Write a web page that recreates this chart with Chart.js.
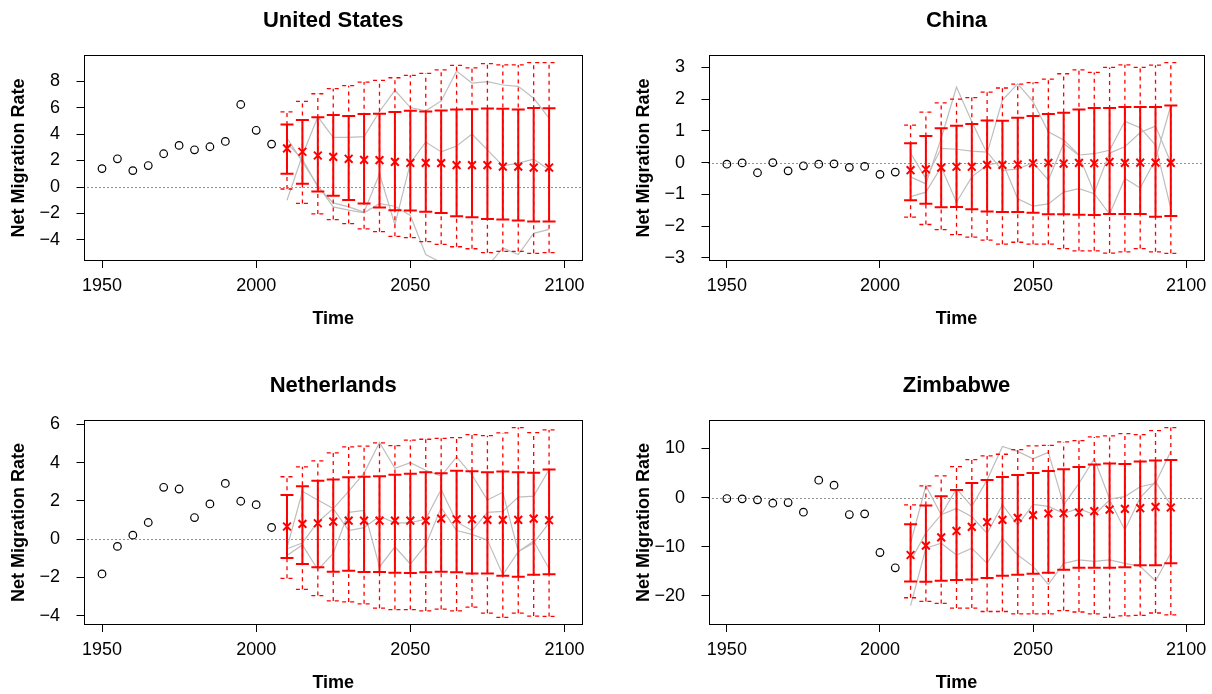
<!DOCTYPE html>
<html>
<head>
<meta charset="utf-8">
<title>Net Migration Rate</title>
<script src="https://cdn.jsdelivr.net/npm/chart.js@4.4.1/dist/chart.umd.min.js"></script>
<style>
	html, body { margin: 0; padding: 0; background: #fff; overflow: hidden; }
	canvas { position: absolute; }
</style>
</head>
<body>
<canvas id="us" width="625" height="365" style="left:0;top:0"></canvas>
<canvas id="cn" width="587" height="365" style="left:625px;top:0"></canvas>
<canvas id="nl" width="625" height="329" style="left:0;top:365px"></canvas>
<canvas id="zw" width="587" height="329" style="left:625px;top:365px"></canvas>
<script>
// years
var obsYears = [1950, 1955, 1960, 1965, 1970, 1975, 1980, 1985, 1990, 1995, 2000, 2005];
var projYears = [2010, 2015, 2020, 2025, 2030, 2035, 2040, 2045, 2050, 2055, 2060, 2065, 2070, 2075, 2080, 2085, 2090, 2095];
var xTicks = [1950, 2000, 2050, 2100];

// United States
var usTicks = [-4, -2, 0, 2, 4, 6, 8];
var usObs = [1.39, 2.13, 1.24, 1.62, 2.51, 3.14, 2.81, 3.04, 3.44, 6.23, 4.28, 3.24];
var usMedian = [2.91, 2.66, 2.38, 2.28, 2.13, 2.05, 2.03, 1.90, 1.82, 1.82, 1.80, 1.65, 1.65, 1.65, 1.54, 1.54, 1.47, 1.47];
var usHigh80 = [4.71, 5.06, 5.27, 5.44, 5.37, 5.52, 5.54, 5.67, 5.75, 5.70, 5.77, 5.85, 5.87, 5.92, 5.90, 5.85, 5.97, 5.95];
var usLow80 = [1.01, 0.25, -0.33, -0.66, -0.99, -1.24, -1.54, -1.75, -1.77, -1.87, -1.97, -2.20, -2.28, -2.41, -2.46, -2.53, -2.61, -2.61];
var usHigh95 = [5.67, 6.46, 7.04, 7.42, 7.65, 7.92, 8.05, 8.25, 8.43, 8.58, 8.84, 9.19, 8.99, 9.32, 9.22, 9.22, 9.39, 9.39];
var usLow95 = [-0.15, -1.24, -2.03, -2.46, -2.76, -3.16, -3.37, -3.72, -3.82, -4.13, -4.33, -4.51, -4.66, -4.96, -4.86, -4.86, -5.01, -4.96];
var usTraj1 = [-1.0, 2.4, 5.3, 3.75, 3.75, 3.8, 5.7, 7.3, 6.0, 5.75, 6.5, 8.75, 7.85, 7.95, 7.7, 7.6, 6.7, 5.2];
var usTraj2 = [3.7, 1.9, 0.1, -1.5, -1.75, -1.95, -1.25, -1.45, -2.15, -5.1, -5.7, -6.2, -6.5, -6.0, -4.6, -5.1, -3.5, -3.2];
var usTraj3 = [3.3, 2.1, 0.0, -1.2, -1.5, -1.9, 1.0, -2.85, 1.8, 3.4, 2.65, 3.1, 4.0, 2.8, 1.6, 1.8, 2.1, 1.3];

// China
var cnTicks = [-3, -2, -1, 0, 1, 2, 3];
var cnObs = [-0.05, -0.01, -0.32, 0.0, -0.26, -0.10, -0.05, -0.04, -0.15, -0.12, -0.37, -0.30];
var cnMedian = [-0.24, -0.21, -0.16, -0.13, -0.13, -0.07, -0.07, -0.06, -0.02, -0.01, -0.03, -0.01, -0.02, 0.02, -0.01, 0.0, 0.0, -0.01];
var cnHigh80 = [0.61, 0.84, 1.08, 1.16, 1.22, 1.33, 1.32, 1.41, 1.47, 1.53, 1.57, 1.67, 1.72, 1.72, 1.75, 1.75, 1.75, 1.80];
var cnLow80 = [-1.19, -1.30, -1.41, -1.40, -1.47, -1.54, -1.56, -1.56, -1.58, -1.63, -1.63, -1.64, -1.65, -1.62, -1.62, -1.62, -1.71, -1.68];
var cnHigh95 = [1.18, 1.59, 1.88, 2.00, 2.05, 2.22, 2.35, 2.47, 2.52, 2.63, 2.80, 2.92, 2.84, 3.00, 3.08, 3.00, 3.07, 3.15];
var cnLow95 = [-1.72, -1.95, -2.11, -2.27, -2.35, -2.44, -2.57, -2.51, -2.57, -2.57, -2.71, -2.78, -2.78, -2.85, -2.81, -2.71, -2.81, -2.86];
var cnTraj1 = [-0.45, -0.67, 0.76, 2.38, 1.29, 0.29, 1.97, 2.48, 1.92, 0.97, 0.71, 0.24, 0.28, 0.39, 1.3, 1.1, 0.55, -1.45];
var cnTraj2 = [-1.07, -0.93, -0.14, -1.25, -0.45, -0.08, 0.02, -1.14, -1.37, -1.30, -0.93, -0.82, -0.98, -1.62, -0.5, -0.8, 0.1, 1.8];
var cnTraj3 = [0.3, -0.5, 0.45, 0.42, 0.36, 0.33, -0.25, -0.2, 0.0, -0.55, 0.6, 0.22, -0.95, 0.3, 0.5, 0.95, 1.15, 0.0];

// Netherlands
var nlTicks = [-4, -2, 0, 2, 4, 6];
var nlObs = [-1.82, -0.38, 0.21, 0.87, 2.71, 2.62, 1.13, 1.84, 2.91, 1.98, 1.80, 0.61];
var nlMedian = [0.66, 0.80, 0.83, 0.92, 0.97, 0.97, 0.97, 0.97, 0.97, 0.97, 1.07, 1.04, 1.04, 1.01, 1.01, 1.01, 1.07, 0.99];
var nlHigh80 = [2.31, 2.77, 3.05, 3.12, 3.23, 3.26, 3.29, 3.36, 3.42, 3.50, 3.45, 3.57, 3.55, 3.50, 3.54, 3.50, 3.47, 3.64];
var nlLow80 = [-0.99, -1.30, -1.47, -1.70, -1.65, -1.72, -1.72, -1.75, -1.77, -1.73, -1.70, -1.73, -1.79, -1.80, -1.91, -1.96, -1.86, -1.84];
var nlHigh95 = [3.26, 3.78, 4.09, 4.51, 4.82, 4.86, 5.03, 4.89, 5.17, 5.22, 5.27, 5.31, 5.46, 5.41, 5.55, 5.83, 5.57, 5.71];
var nlLow95 = [-2.05, -2.62, -2.95, -3.23, -3.28, -3.38, -3.61, -3.68, -3.68, -3.75, -3.66, -3.75, -3.55, -3.87, -4.09, -3.87, -4.02, -4.04];
var nlTraj1 = [-0.45, 2.5, 2.05, 1.6, 2.5, 3.45, 5.05, 3.7, 4.0, 3.6, 3.3, 4.3, 3.35, 2.05, 2.45, -0.65, -0.2, 0.85];
var nlTraj2 = [-0.5, -0.2, 0.9, 1.6, 0.45, 0.6, 1.2, 0.85, 0.85, 1.05, 2.6, 0.9, 0.45, 1.4, 1.45, 2.2, 2.25, 3.64];
var nlTraj3 = [-0.85, -0.3, -1.6, -0.75, 1.4, 1.5, -1.45, -0.4, -1.3, -0.3, 1.65, 0.45, 0.25, -0.05, -1.86, -0.65, -0.1, -1.55];

// Zimbabwe
var zwTicks = [-20, -10, 0, 10];
var zwObs = [-0.2, -0.27, -0.47, -1.15, -1.02, -2.98, 3.53, 2.51, -3.46, -3.32, -11.19, -14.3];
var zwMedian = [-11.7, -9.8, -8.1, -6.8, -5.97, -5.02, -4.54, -4.14, -3.59, -3.25, -3.19, -3.05, -2.78, -2.44, -2.31, -2.17, -1.90, -2.03];
var zwHigh80 = [-5.42, -1.63, 0.27, 1.56, 2.98, 3.59, 4.20, 4.61, 5.02, 5.42, 5.76, 6.24, 6.71, 6.92, 6.85, 7.32, 7.53, 7.66];
var zwLow80 = [-17.1, -17.15, -16.95, -16.8, -16.7, -16.4, -15.9, -15.7, -15.5, -15.3, -14.7, -14.3, -14.3, -14.3, -14.2, -13.8, -13.8, -13.4];
var zwHigh95 = [-1.49, 2.37, 4.41, 6.31, 7.73, 8.47, 8.81, 9.76, 10.51, 10.64, 11.32, 11.59, 12.34, 12.54, 13.02, 12.81, 13.63, 14.24];
var zwLow95 = [-20.4, -21.15, -21.56, -22.5, -22.5, -23.2, -23.2, -23.7, -23.7, -23.7, -23.0, -23.3, -23.7, -24.4, -24.1, -24.0, -23.5, -23.9];
var zwTraj1 = [-9.3, 2.4, -3.5, 1.8, -1.8, 3.6, 10.4, 9.4, 7.9, 9.2, -1.5, 2.9, 7.9, -0.3, 0.2, 2.2, 2.9, 9.4];
var zwTraj2 = [-12.9, -7.2, -3.5, -2.2, -3.9, -7.3, -1.5, -5.6, -1.4, -1.8, -3.2, -2.2, -3.5, -0.5, -6.6, 0.0, 3.2, -1.5];
var zwTraj3 = [-22.0, -10.3, -9.3, -11.7, -10.3, -13.4, -8.3, -11.7, -14.0, -17.7, -13.4, -12.7, -13.0, -12.7, -13.4, -14.0, -17.0, -11.3];

var FONT = '"Liberation Sans", Arial, Helvetica, sans-serif';
var CAP = 6.5;

Chart.defaults.color = '#000';
Chart.defaults.font.family = FONT;

function points(xs, ys)
{
	return xs.map(function (x, i) { return {x: x, y: ys[i]}; });
}

function errorBar(ctx, x, y0, y1, width, dash)
{
	ctx.lineWidth = width;
	ctx.setLineDash(dash);
	ctx.beginPath();
	ctx.moveTo(x, y0); ctx.lineTo(x, y1);
	ctx.moveTo(x - CAP, y0); ctx.lineTo(x + CAP, y0);
	ctx.moveTo(x - CAP, y1); ctx.lineTo(x + CAP, y1);
	ctx.stroke();
}

// box, dotted zero line and the 80% / 95% bars
var decorations = {
	id: 'decorations',
	beforeDatasetsDraw: function (chart)
	{
		var ctx = chart.ctx, a = chart.chartArea;
		var y = Math.round(chart.scales.y.getPixelForValue(0)) + 0.5;
		ctx.save();
		ctx.strokeStyle = '#222';
		ctx.lineWidth = 1;
		ctx.setLineDash([1, 3]);
		ctx.beginPath();
		ctx.moveTo(a.left, y);
		ctx.lineTo(a.right, y);
		ctx.stroke();
		ctx.restore();
	},
	beforeDatasetDraw: function (chart, args)
	{
		if (args.index !== 0)
			return;
		var bands = chart.data.datasets[0].bands;
		var ctx = chart.ctx, xs = chart.scales.x, ys = chart.scales.y;
		ctx.save();
		ctx.strokeStyle = '#ff0000';
		projYears.forEach(function (yr, i)
		{
			var x = xs.getPixelForValue(yr);
			errorBar(ctx, x, ys.getPixelForValue(bands.lo95[i]), ys.getPixelForValue(bands.hi95[i]), 1.3, [4, 4]);
			errorBar(ctx, x, ys.getPixelForValue(bands.lo80[i]), ys.getPixelForValue(bands.hi80[i]), 2, []);
		});
		ctx.restore();
	},
	afterDraw: function (chart)
	{
		var ctx = chart.ctx, a = chart.chartArea;
		var l = Math.round(a.left) + 0.5, t = Math.round(a.top) + 0.5;
		var r = Math.round(a.right) - 0.5, b = Math.round(a.bottom) - 0.5;
		ctx.save();
		ctx.strokeStyle = '#000';
		ctx.lineWidth = 1;
		ctx.strokeRect(l, t, r - l, b - t);
		ctx.restore();
	}
};

function panel(id, title, yTicks, obs, med, lo80, hi80, lo95, hi95, trajs, opt)
{
	var all = obs.concat(lo95, hi95);
	var lo = Math.min.apply(null, all), hi = Math.max.apply(null, all);
	var ext = (hi - lo) * 0.04;

	var datasets = [];
	datasets.push({
		data: points(projYears, med),
		bands: {lo80: lo80, hi80: hi80, lo95: lo95, hi95: hi95},
		pointStyle: 'crossRot', pointRadius: 5.5,
		borderColor: '#ff0000', pointBorderColor: '#ff0000',
		borderWidth: 2, pointBorderWidth: 2
	});
	datasets.push({
		data: points(obsYears, obs),
		pointStyle: 'circle', pointRadius: 3.8,
		borderColor: '#000', pointBorderColor: '#000',
		backgroundColor: 'rgba(0,0,0,0)', pointBackgroundColor: 'rgba(0,0,0,0)',
		borderWidth: 1.2, pointBorderWidth: 1.2
	});
	trajs.forEach(function (t)
	{
		datasets.push({
			data: points(projYears, t),
			showLine: true, pointRadius: 0,
			borderColor: '#bebebe', borderWidth: 1.2
		});
	});

	var tickFont = {family: FONT, size: 18};
	var labelFont = {family: FONT, size: 18, weight: 'bold'};

	new Chart(document.getElementById(id), {
		type: 'scatter',
		data: {datasets: datasets},
		options: {
			responsive: false,
			animation: false,
			events: [],
			layout: {padding: {left: 0, right: opt.right, top: 0, bottom: 0}},
			plugins: {
				legend: {display: false},
				tooltip: {enabled: false},
				title: {
					display: true, text: title, fullSize: false, color: '#000',
					font: {family: FONT, size: 22, weight: 'bold'},
					padding: {top: 7.3, bottom: 21.3}
				}
			},
			scales: {
				x: {
					type: 'linear', min: 1944, max: 2106,
					afterBuildTicks: function (s) { s.ticks = xTicks.map(function (v) { return {value: v}; }); },
					afterFit: function (s) { s.height = opt.xHeight; s.paddingLeft = 0; s.paddingRight = 0; },
					grid: {drawOnChartArea: false, drawTicks: true, tickLength: 7, color: '#000'},
					border: {display: false},
					ticks: {padding: 7.2, color: '#000', font: tickFont, maxRotation: 0,
						callback: function (v) { return String(v); }},
					title: {display: true, text: 'Time', color: '#000', font: labelFont,
						padding: {top: 0, bottom: opt.timePad}}
				},
				y: {
					type: 'linear', min: lo - ext, max: hi + ext,
					afterBuildTicks: function (s) { s.ticks = yTicks.map(function (v) { return {value: v}; }); },
					afterFit: function (s) { s.width = 83.5; s.paddingTop = 0; s.paddingBottom = 0; },
					grid: {drawOnChartArea: false, drawTicks: true, tickLength: 7, color: '#000'},
					border: {display: false},
					ticks: {padding: 16.5, color: '#000', font: tickFont,
						callback: function (v) { return String(v).replace('-', '\u2212'); }},
					title: {display: true, text: 'Net Migration Rate', color: '#000', font: labelFont,
						padding: {top: 8.4, bottom: 0}}
				}
			}
		},
		plugins: [decorations]
	});
}

panel('us', 'United States', usTicks, usObs, usMedian, usLow80, usHigh80, usLow95, usHigh95,
	[usTraj1, usTraj2, usTraj3], {right: 42, xHeight: 104, timePad: 35.2});
panel('cn', 'China', cnTicks, cnObs, cnMedian, cnLow80, cnHigh80, cnLow95, cnHigh95,
	[cnTraj1, cnTraj2, cnTraj3], {right: 3.5, xHeight: 104, timePad: 35.2});
panel('nl', 'Netherlands', nlTicks, nlObs, nlMedian, nlLow80, nlHigh80, nlLow95, nlHigh95,
	[nlTraj1, nlTraj2, nlTraj3], {right: 42, xHeight: 69, timePad: 0.2});
panel('zw', 'Zimbabwe', zwTicks, zwObs, zwMedian, zwLow80, zwHigh80, zwLow95, zwHigh95,
	[zwTraj1, zwTraj2, zwTraj3], {right: 3.5, xHeight: 69, timePad: 0.2});
</script>
</body>
</html>
